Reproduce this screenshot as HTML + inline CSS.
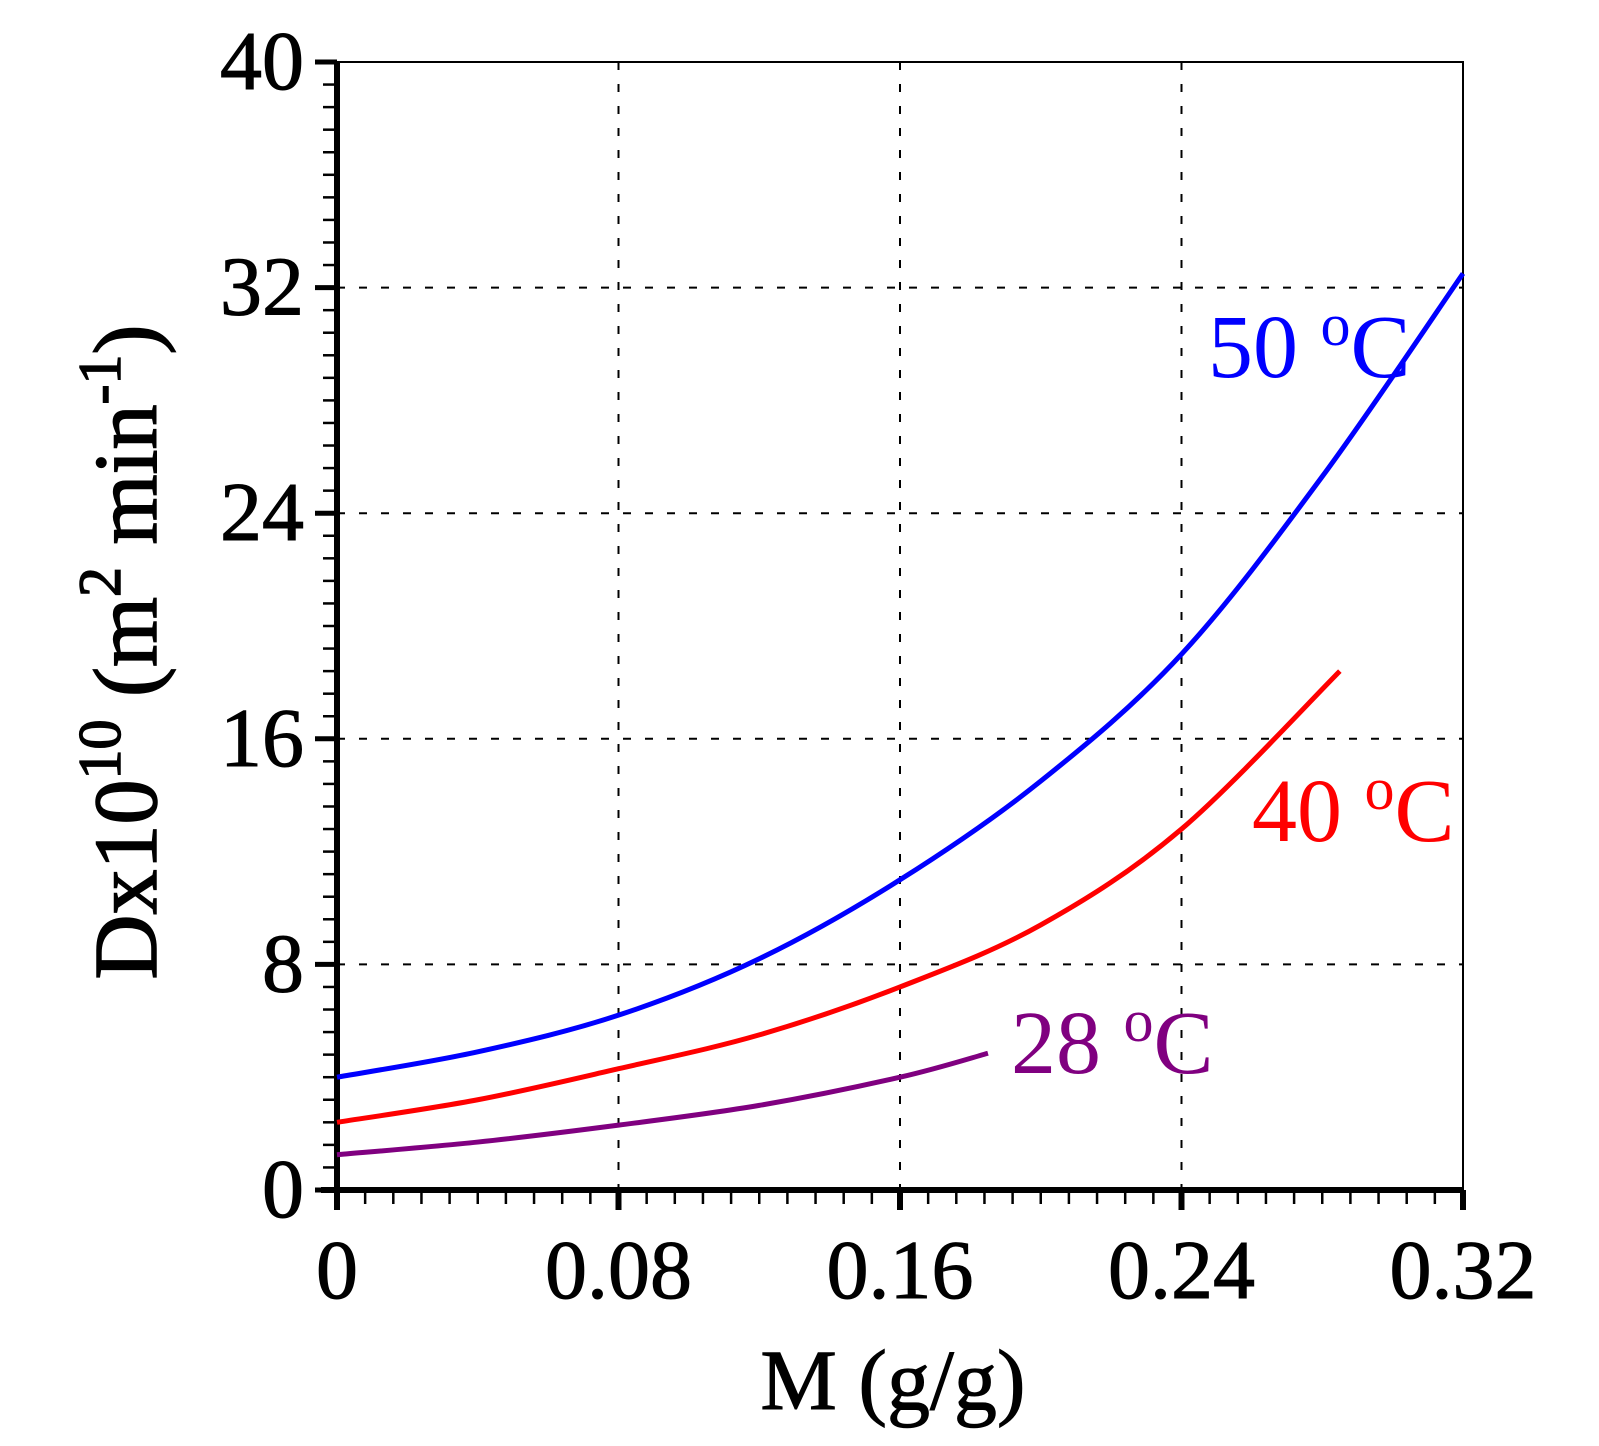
<!DOCTYPE html>
<html><head><meta charset="utf-8"><style>
body{margin:0;background:#fff}
svg{display:block;font-family:"Liberation Serif",serif}
</style></head><body>
<svg id="chart" width="1599" height="1446" viewBox="0 0 1599 1446" xmlns="http://www.w3.org/2000/svg"></svg>
<script>
const xTicks=[0,0.08,0.16,0.24,0.32];
const xTickLabels=["0","0.08","0.16","0.24","0.32"];
const yTicks=[0,8,16,24,32,40];
const yTickLabels=["0","8","16","24","32","40"];
const mBlue=[0,0.04,0.08,0.12,0.16,0.20,0.24,0.28,0.32];
const dBlue=[4.0,4.9,6.2,8.2,11.0,14.5,19.0,25.3,32.5];
const mRed=[0,0.04,0.08,0.12,0.16,0.20,0.24,0.285];
const dRed=[2.4,3.2,4.3,5.5,7.2,9.4,12.8,18.4];
const mPurple=[0,0.04,0.08,0.12,0.16,0.185];
const dPurple=[1.25,1.7,2.3,3.0,4.0,4.85];

const L=337,R=1463,T=62,B=1190;
const sx=v=>L+(v-0)/0.32*(R-L);
const sy=v=>B-(v-0)/40*(B-T);
const svg=document.getElementById('chart');
const NS='http://www.w3.org/2000/svg';
function mk(tag,attrs,parent){const e=document.createElementNS(NS,tag);for(const k in attrs)e.setAttribute(k,attrs[k]);(parent||svg).appendChild(e);return e;}

xTicks.slice(1,-1).forEach(v=>{const g=mk('line',{x1:sx(v),x2:sx(v),y1:T,y2:B,stroke:'#000','stroke-width':2,'stroke-dasharray':'8,14'});

});
yTicks.slice(1,-1).forEach(v=>{const g=mk('line',{x1:L,x2:R,y1:sy(v),y2:sy(v),stroke:'#000','stroke-width':2,'stroke-dasharray':'8,14'});

});

const fr=mk('rect',{x:L,y:T,width:R-L,height:B-T,fill:'none',stroke:'#000','stroke-width':2});


const ya=mk('line',{x1:L,x2:L,y1:T,y2:B+14,stroke:'#000','stroke-width':6});


const xa=mk('line',{x1:L-16,x2:R,y1:B,y2:B,stroke:'#000','stroke-width':6});



for(let i=0;i<=40;i++){const v=i*0.008;const t=mk('line',{x1:sx(v),x2:sx(v),y1:B,y2:B+(i%10==0?20:14),stroke:'#000','stroke-width':i%10==0?6:2.5});

}
for(let i=0;i<=50;i++){const v=i*0.8;const t=mk('line',{x1:L-(i%10==0?22:14),x2:L,y1:sy(v),y2:sy(v),stroke:'#000','stroke-width':i%10==0?5:2.5});

}

xTicks.forEach((v,i)=>{const t=mk('text',{x:sx(v),y:1298,'font-size':84,'text-anchor':'middle',stroke:'#000','stroke-width':1});t.textContent=xTickLabels[i];

});
yTicks.forEach((v,i)=>{const t=mk('text',{x:304,y:sy(v)+27,'font-size':84,'text-anchor':'end',stroke:'#000','stroke-width':1});t.textContent=yTickLabels[i];

});

function line(ms,ds,color,name){
const p=mk('path',{d:smooth(ms,ds),fill:'none',stroke:color,'stroke-width':5});

}
function smooth(ms,ds){const P=ms.map((m,i)=>[sx(m),sy(ds[i])]);let d='M'+P[0][0]+','+P[0][1];
for(let i=0;i<P.length-1;i++){const p0=P[Math.max(i-1,0)],p1=P[i],p2=P[i+1],p3=P[Math.min(i+2,P.length-1)];
const c1=[p1[0]+(p2[0]-p0[0])/6,p1[1]+(p2[1]-p0[1])/6],c2=[p2[0]-(p3[0]-p1[0])/6,p2[1]-(p3[1]-p1[1])/6];
d+=' C'+c1.join(',')+' '+c2.join(',')+' '+p2.join(',');}return d;}
line(mBlue,dBlue,'#0000ff','series-50c');
line(mRed,dRed,'#ff0000','series-40c');
line(mPurple,dPurple,'#800080','series-28c');

function lbl(x,y,num,color,name){const t=mk('text',{x:x,y:y,'font-size':90,fill:color});
t.innerHTML=num+'<tspan dy="-32" font-size="60">o</tspan><tspan dy="32">C</tspan>';

}
lbl(1208,377,'50 ','#0000ff','label-50c');
lbl(1252,841,'40 ','#ff0000','label-40c');
lbl(1011,1073,'28 ','#800080','label-28c');

const xt=mk('text',{x:893,y:1409,'font-size':86,'text-anchor':'middle',stroke:'#000','stroke-width':1});xt.textContent='M (g/g)';


const yt=mk('text',{x:0,y:0,'font-size':90,'text-anchor':'middle',stroke:'#000','stroke-width':1.5,transform:'translate(156,652) rotate(-90)'});
yt.innerHTML='Dx10<tspan dy="-36" font-size="60">10</tspan><tspan dy="36"> (m</tspan><tspan dy="-36" font-size="60">2</tspan><tspan dy="36"> min</tspan><tspan dy="-36" font-size="60">-1</tspan><tspan dy="36">)</tspan>';


</script>
</body></html>
